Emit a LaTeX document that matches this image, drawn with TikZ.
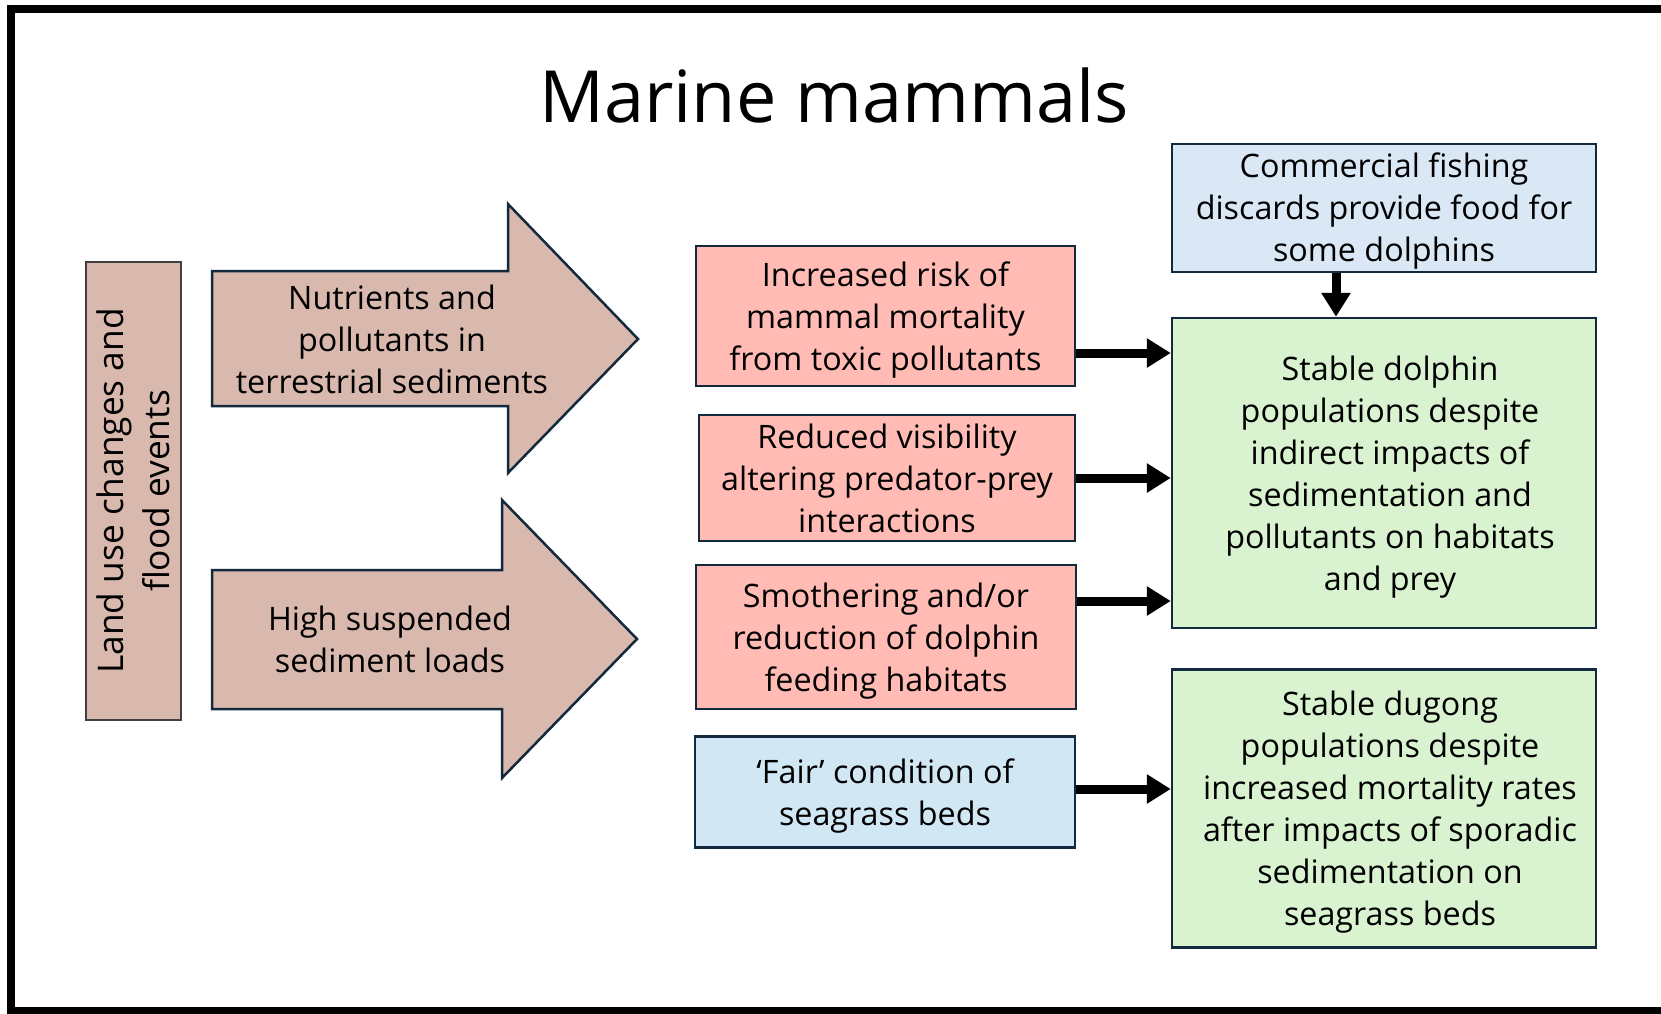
\documentclass[tikz,border=0pt]{standalone}
\usepackage{fontspec}
\setmainfont{Open Sans}
\usetikzlibrary{arrows.meta}
\definecolor{edgec}{HTML}{13293D}
\definecolor{tanc}{HTML}{D9B8AE}
\definecolor{redc}{HTML}{FFBBB4}
\definecolor{bluec}{HTML}{DAE8F6}
\definecolor{blued}{HTML}{D1E7F4}
\definecolor{greenc}{HTML}{D9F2D0}
\tikzset{
  bodytext/.style={font=\fontsize{32.3}{42}\selectfont, align=center, text=black},
  boxtext/.style={bodytext, yshift=-4pt},
  box/.style={draw=edgec, line width=2.5pt, inner sep=0pt, anchor=center},
  redbox/.style={box, fill=redc},
  bluebox/.style={box, fill=bluec},
  greenbox/.style={box, fill=greenc},
  blockarrow/.style={draw=edgec, line width=2.5pt, fill=tanc, line join=miter},
  conn/.style={line width=9pt, -{Triangle[length=24pt,width=28pt]}},
}
\begin{document}
\begin{tikzpicture}[x=1pt,y=-1pt]
\useasboundingbox (0,0) rectangle (1661,1013);
\clip (0,0) rectangle (1661,1013);
\fill[white] (0,0) rectangle (1661,1013);
% outer frame
\draw[line width=8pt] (1680,9) -- (11,9) -- (11,1011) -- (1680,1011);
% title
\node[anchor=base, font=\fontsize{72}{80}\selectfont] (title) at (834,122) {Marine mammals};
% left box
\node[draw=black!75, line width=1.5pt, fill=tanc, minimum width=95pt, minimum height=458pt, inner sep=0pt] (land) at (133.5,491) {};
\node[rotate=90, align=center, font=\fontsize{35.3}{46}\selectfont] (landtxt) at (land.center) {Land use changes and\\flood events};
% block arrows
\draw[blockarrow] (212,271) -- (508,271) -- (508,204) -- (638,339) -- (508,473) -- (508,406) -- (212,406) -- cycle;
\node[bodytext, yshift=-1pt] (nut) at (392,338) {Nutrients and\\pollutants in\\terrestrial sediments};
\draw[blockarrow] (212,570) -- (502,570) -- (502,500) -- (637,639) -- (502,778) -- (502,709) -- (212,709) -- cycle;
\node[bodytext, yshift=-1pt] (hss) at (390,638) {High suspended\\sediment loads};
% middle boxes
\node[redbox, minimum width=379pt, minimum height=140pt] (r1) at (885.5,316) {};
\node[boxtext] (r1t) at (r1.center) {Increased risk of\\mammal mortality\\from toxic pollutants};
\node[redbox, minimum width=376pt, minimum height=126pt] (r2) at (887,478) {};
\node[bodytext] (r2t) at (r2.center) {Reduced visibility\\altering predator-prey\\interactions};
\node[redbox, minimum width=380pt, minimum height=144pt] (r3) at (886,637) {};
\node[boxtext] (r3t) at (r3.center) {Smothering and/or\\reduction of dolphin\\feeding habitats};
\node[box, fill=blued, minimum width=380pt, minimum height=111pt] (b1) at (885,792) {};
\node[boxtext] (b1t) at (b1.center) {‘Fair’ condition of\\seagrass beds};
% right boxes
\node[bluebox, minimum width=424pt, minimum height=128pt] (cf) at (1384,208) {};
\node[bodytext, yshift=-3pt] (cft) at (cf.center) {Commercial fishing\\discards provide food for\\some dolphins};
\node[greenbox, minimum width=424pt, minimum height=310pt] (g1) at (1384,473) {};
\node[boxtext, xshift=6pt] (g1t) at (g1.center) {Stable dolphin\\populations despite\\indirect impacts of\\sedimentation and\\pollutants on habitats\\and prey};
\node[greenbox, minimum width=424pt, minimum height=278pt] (g2) at (1384,808.5) {};
\node[boxtext, xshift=6pt] (g2t) at (g2.center) {Stable dugong\\populations despite\\increased mortality rates\\after impacts of sporadic\\sedimentation on\\seagrass beds};
% connectors
\draw[conn] (r1.east |- 0,353) -- (g1.west |- 0,353);
\draw[conn] (r2.east |- 0,478) -- (g1.west |- 0,478);
\draw[conn] (r3.east |- 0,601) -- (g1.west |- 0,601);
\draw[conn] (b1.east |- 0,789) -- (g2.west |- 0,789);
\draw[conn] (cf.south -| 1336,0) -- (g1.north -| 1336,0);
\end{tikzpicture}
\end{document}
